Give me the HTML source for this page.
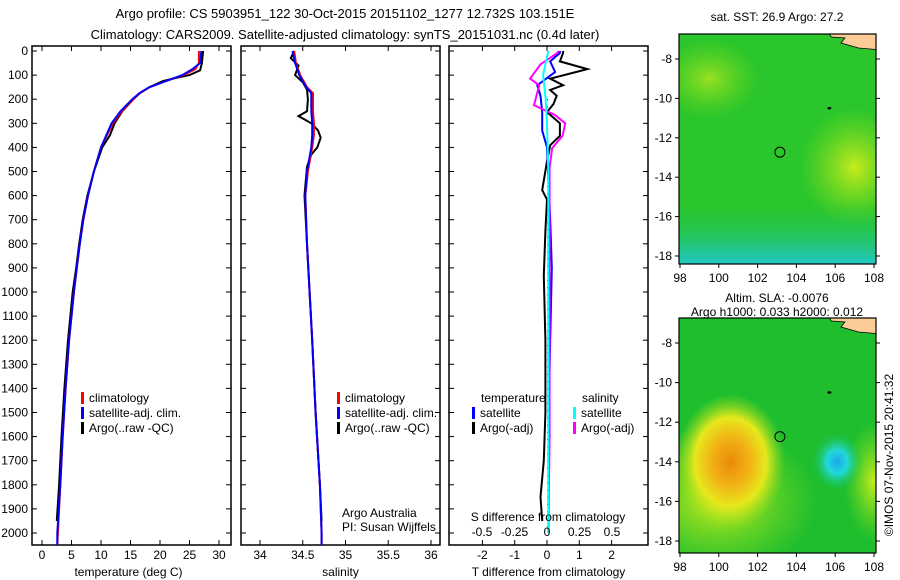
<!DOCTYPE html>
<html><head><meta charset="utf-8"><style>
html,body{margin:0;padding:0;background:#fff;}
svg{display:block;font-family:"Liberation Sans",sans-serif;}
</style></head><body>
<svg id="c" width="900" height="580" viewBox="0 0 900 580" xmlns="http://www.w3.org/2000/svg">
<defs>
<radialGradient id="gOr" cx="0.5" cy="0.5" r="0.5">
<stop offset="0" stop-color="#e98a0a"/><stop offset="0.35" stop-color="#f2b216"/><stop offset="0.65" stop-color="#e6e81c"/><stop offset="1" stop-color="#9fe01c" stop-opacity="0"/></radialGradient>
<radialGradient id="gCy" cx="0.5" cy="0.5" r="0.5">
<stop offset="0" stop-color="#1aa8f0"/><stop offset="0.4" stop-color="#22d8d8"/><stop offset="1" stop-color="#18c24a" stop-opacity="0"/></radialGradient>
<radialGradient id="gYg" cx="0.5" cy="0.5" r="0.5">
<stop offset="0" stop-color="#c8ec1c"/><stop offset="1" stop-color="#8ade1c" stop-opacity="0"/></radialGradient>
<linearGradient id="gBot" x1="0" y1="0" x2="0" y2="1">
<stop offset="0" stop-color="#1cc23a" stop-opacity="0"/><stop offset="1" stop-color="#22c8c8"/></linearGradient>
<clipPath id="cm1"><rect x="679" y="34" width="197" height="230"/></clipPath>
<clipPath id="cm2"><rect x="679" y="318" width="197" height="235"/></clipPath>
</defs>
<g font-size="13" text-anchor="middle" fill="#000">
<text x="345" y="18">Argo profile: CS 5903951_122 30-Oct-2015 20151102_1277 12.732S 103.151E</text>
<text x="345" y="39">Climatology: CARS2009. Satellite-adjusted climatology: synTS_20151031.nc (0.4d later)</text>
</g>
<g id="panels"></g>
<g id="maps"></g>
<text transform="translate(893,455) rotate(-90)" font-size="12" text-anchor="middle">©IMOS 07-Nov-2015 20:41:32</text>
</svg>
<script>
// ---- data ----
const tClimDepth=[0,50,75,100,125,150,175,200,250,300,350,400,500,600,700,800,900,1000,1200,1400,1600,1800,2000,2050];
const tClim=[26.6,26.6,26,24,21,18.2,16.6,15.5,13.5,12,11,10,8.8,7.8,7,6.4,5.9,5.4,4.6,4,3.5,3.1,2.7,2.6];
const tSat=[27,26.8,25.5,23.8,21,18.2,16.5,15.3,13.3,11.8,10.9,10,8.8,7.8,7,6.4,5.9,5.4,4.6,4,3.5,3.1,2.6,2.6];
const tArgoDepth=[0,50,80,100,110,125,150,175,200,250,300,350,400,500,600,700,800,900,1000,1200,1400,1600,1800,1950];
const tArgo=[27.3,27.1,26.8,25,23,20.5,18.2,16.6,15.5,13.6,12.3,11.5,10.2,8.8,7.7,6.9,6.3,5.8,5.2,4.4,3.8,3.3,2.9,2.5];
const sClimDepth=[0,50,100,150,175,200,250,300,350,400,500,600,800,1000,1200,1500,1800,2000,2050];
const sClim=[34.4,34.42,34.47,34.55,34.62,34.62,34.62,34.63,34.63,34.61,34.56,34.53,34.55,34.58,34.61,34.65,34.7,34.72,34.72];
const sSat=[34.38,34.41,34.46,34.54,34.6,34.6,34.6,34.61,34.61,34.6,34.55,34.53,34.55,34.58,34.61,34.65,34.7,34.72,34.72];
const sArgoDepth=[0,30,60,100,130,160,200,250,270,300,330,360,400,430,480,600,800,1000,1200,1500,1800,1950];
const sArgo=[34.4,34.36,34.45,34.41,34.5,34.55,34.56,34.55,34.45,34.6,34.68,34.71,34.67,34.6,34.55,34.52,34.55,34.58,34.61,34.65,34.7,34.72];
const dTArgoDepth=[0,8,43,75,87,115,142,162,186,220,253,300,352,391,458,577,616,747,933,1200,1500,1700,1850,1950];
const dTArgo=[0.5,0.5,0.4,1.25,0.9,0.1,0.5,0.1,0.3,0.2,0,0.4,0.4,0.1,0,-0.15,0,-0.05,-0.1,-0.05,-0.05,-0.1,-0.2,-0.15];
const dSArgoDepth=[0,8,55,115,142,225,265,300,352,403,482,800,1200,1600,2000];
const dSArgo=[0.09,0.08,-0.05,-0.13,-0.06,-0.1,0.06,0.14,0.12,0.04,0.02,0.02,0.02,0.02,0.01];
const dTSatDepth=[0,8,43,87,142,186,253,330,400,700,900,1200,1500,1800,2000];
const dTSat=[0.4,0.4,0.1,0.25,-0.3,-0.2,-0.15,-0.15,0,0.1,0.15,0.1,0.05,0.05,0.05];
const dSSatDepth=[0,50,100,150,200,300,500,1000,1500,2000];
const dSSat=[0.01,-0.01,-0.03,-0.02,-0.01,0,0.01,0.01,0.01,0.01];
const depthTicks=[0,100,200,300,400,500,600,700,800,900,1000,1100,1200,1300,1400,1500,1600,1700,1800,1900,2000];
const tTicks=[0,5,10,15,20,25,30];
const sTicks=[34,34.5,35,35.5,36];
const dTTicks=[-2,-1,0,1,2];
const dSTicks=[-0.5,-0.25,0,0.25,0.5];
const dSTickLabels=["-0.5","-0.25","0","0.25","0.5"];
const lonTicks=[98,100,102,104,106,108];
const latTicks=[-8,-10,-12,-14,-16,-18];

const NS="http://www.w3.org/2000/svg";
function mk(parent,tag,attrs,text){const e=document.createElementNS(NS,tag);for(const k in attrs)e.setAttribute(k,attrs[k]);if(text!==undefined)e.textContent=text;parent.appendChild(e);return e;}
const yD=d=>51+d*0.241;
const BOT=545;
const P=document.getElementById('panels');

function panel(name,x0,x1,xs,ticks,labels,title,showDepth){
  const g=mk(P,'g',{});
  
  
  const r=mk(g,'rect',{x:x0,y:46,width:x1-x0,height:BOT-46,fill:'none',stroke:'#000','stroke-width':1.5});
  
  
  ticks.forEach((t,i)=>{const x=xs(t);
    mk(g,'line',{x1:x,x2:x,y1:BOT,y2:BOT-5,stroke:'#000'});
    mk(g,'line',{x1:x,x2:x,y1:46,y2:51,stroke:'#000'});
    const tl=mk(g,'text',{x:x,y:559,'font-size':12,'text-anchor':'middle'},labels[i]);
    
    
  });
  depthTicks.forEach(d=>{const y=yD(d);
    mk(g,'line',{x1:x0,x2:x0+5,y1:y,y2:y,stroke:'#000'});
    mk(g,'line',{x1:x1,x2:x1-5,y1:y,y2:y,stroke:'#000'});
    if(showDepth){const tl=mk(g,'text',{x:28,y:y+4,'font-size':12,'text-anchor':'end'},String(d));
      
      }
  });
  const t=mk(g,'text',{x:(x0+x1)/2+(name==='temp-panel'?-3:0),y:576,'font-size':12,'text-anchor':'middle'},title);
  
  
  return g;
}
function line(g,depths,vals,xs,color,name,w){
  const pts=depths.map((d,i)=>xs(vals[i]).toFixed(1)+','+yD(d).toFixed(1)).join(' ');
  const p=mk(g,'polyline',{points:pts,fill:'none',stroke:color,'stroke-width':w||2});
  
  
}
function legend(g,x,y,items){
  items.forEach((it,i)=>{
    mk(g,'rect',{x:x,y:y+i*15-10,width:3,height:12,fill:it[0]});
    const t=mk(g,'text',{x:x+8,y:y+i*15,'font-size':12},it[1]);
    
    
  });
}
// temperature
const xT=v=>42+v*5.9;
const g1=panel('temp-panel',32,231,xT,tTicks,tTicks.map(String),'temperature (deg C)',true);
line(g1,tArgoDepth,tArgo,xT,'#000','argo-temp-line');
line(g1,tClimDepth,tClim,xT,'#f00','clim-temp-line');
line(g1,tClimDepth,tSat,xT,'#00f','sat-temp-line');
legend(g1,81,402,[['#f00','climatology'],['#00f','satellite-adj. clim.'],['#000','Argo(..raw -QC)']]);
// salinity
const xS=v=>260+(v-34)*85.5;
const g2=panel('salinity-panel',241,440,xS,sTicks,sTicks.map(String),'salinity',false);
line(g2,sArgoDepth,sArgo,xS,'#000','argo-salinity-line');
line(g2,sClimDepth,sClim,xS,'#f00','clim-salinity-line');
line(g2,sClimDepth,sSat,xS,'#00f','sat-salinity-line');
legend(g2,337,402,[['#f00','climatology'],['#00f','satellite-adj. clim.'],['#000','Argo(..raw -QC)']]);
const a1=mk(g2,'text',{x:342,y:517,'font-size':12},'Argo Australia');


const a2=mk(g2,'text',{x:342,y:531,'font-size':12},'PI: Susan Wijffels');


// differences
const xDT=v=>547+v*32.3;
const xDS=v=>547+v*130;
const g3=panel('difference-panel',449,648,xDT,dTTicks,dTTicks.map(String),'T difference from climatology',false);
for(let d=200;d<2000;d+=30)mk(g3,'rect',{x:547,y:yD(d),width:1,height:1,fill:'#000'});
line(g3,dTArgoDepth,dTArgo,xDT,'#000','argo-t-diff-line');
line(g3,dTSatDepth,dTSat,xDT,'#00f','sat-t-diff-line');
line(g3,dSArgoDepth,dSArgo,xDS,'#f0f','argo-s-diff-line');
line(g3,dSSatDepth,dSSat,xDS,'#0ff','sat-s-diff-line');
dSTicks.forEach((t,i)=>{const tl=mk(g3,'text',{x:xDS(t),y:536,'font-size':12,'text-anchor':'middle'},dSTickLabels[i]);
  
  });
const st=mk(g3,'text',{x:548,y:521,'font-size':12,'text-anchor':'middle'},'S difference from climatology');


const lt=mk(g3,'text',{x:481,y:402,'font-size':12},'temperature');


const ls=mk(g3,'text',{x:582,y:402,'font-size':12},'salinity');


legend(g3,472,417,[['#00f','satellite'],['#000','Argo(-adj)']]);
legend(g3,573,417,[['#0ff','satellite'],['#f0f','Argo(-adj)']]);

// maps
const M=document.getElementById('maps');
function map(name,top,h,lat8,lat18,title,clip,draw){
  const g=mk(M,'g',{});
  
  
  const lonX=v=>680+(v-98)*19.4;
  const latY=v=>lat8+(-8-v)*(lat18-lat8)/10;
  const inner=mk(g,'g',{'clip-path':'url(#'+clip+')'});
  draw(inner,lonX,latY);
  mk(inner,'path',{d:`M${lonX(105.7)} ${top} L${lonX(105.8)} ${top+3} L${lonX(106.5)} ${top+4} L${lonX(106.3)} ${top+9} L${lonX(107.2)} ${top+14} L${lonX(108.4)} ${top+16} L${lonX(108.4)} ${top} Z`,fill:'#fccc96',stroke:'#000','stroke-width':0.8});
  mk(inner,'ellipse',{cx:lonX(105.7),cy:latY(-10.5),rx:2,ry:1.2,fill:'#000'});
  const c=mk(inner,'circle',{cx:lonX(103.15),cy:latY(-12.73),r:5,fill:'none',stroke:'#000'});
  
  
  mk(g,'rect',{x:679,y:top,width:197,height:h,fill:'none',stroke:'#000','stroke-width':1.2});
  lonTicks.forEach(v=>{const x=lonX(v);mk(g,'line',{x1:x,x2:x,y1:top+h,y2:top+h+4,stroke:'#000'});
    const t=mk(g,'text',{x:x,y:top+h+18,'font-size':12,'text-anchor':'middle'},String(v));
    
    });
  latTicks.forEach(v=>{const y=latY(v);mk(g,'line',{x1:675,x2:679,y1:y,y2:y,stroke:'#000'});
    mk(g,'line',{x1:876,x2:880,y1:y,y2:y,stroke:'#000'});
    const t=mk(g,'text',{x:672,y:y+4,'font-size':12,'text-anchor':'end'},String(v));
    
    });
  title.forEach(s=>{const t=mk(g,'text',{x:777,y:s[1],'font-size':12,'text-anchor':'middle'},s[0]);
    
    });
}
map('sst-map',34,230,59,256,[['sat. SST: 26.9 Argo: 27.2',21]],'cm1',(g,lx,ly)=>{
  mk(g,'rect',{x:679,y:34,width:197,height:230,fill:'#2bc62b'});
  mk(g,'ellipse',{cx:lx(107),cy:ly(-13.5),rx:55,ry:60,fill:'url(#gYg)'});
  mk(g,'ellipse',{cx:lx(99.5),cy:ly(-9),rx:50,ry:40,fill:'url(#gYg)',opacity:0.7});
  mk(g,'rect',{x:679,y:200,width:197,height:64,fill:'url(#gBot)'});
});
map('sla-map',318,235,343,541,[['Altim. SLA: -0.0076',302],['Argo h1000: 0.033 h2000: 0.012',316]],'cm2',(g,lx,ly)=>{
  mk(g,'rect',{x:679,y:318,width:197,height:235,fill:'#1ebe2e'});
  mk(g,'ellipse',{cx:lx(100),cy:ly(-16),rx:100,ry:75,fill:'url(#gYg)'});
  mk(g,'ellipse',{cx:lx(108),cy:ly(-15),rx:30,ry:60,fill:'url(#gYg)'});
  mk(g,'ellipse',{cx:lx(100.6),cy:ly(-14),rx:55,ry:68,fill:'url(#gOr)'});
  mk(g,'ellipse',{cx:lx(106.1),cy:ly(-14),rx:26,ry:30,fill:'url(#gCy)'});
});
</script>
</body></html>
